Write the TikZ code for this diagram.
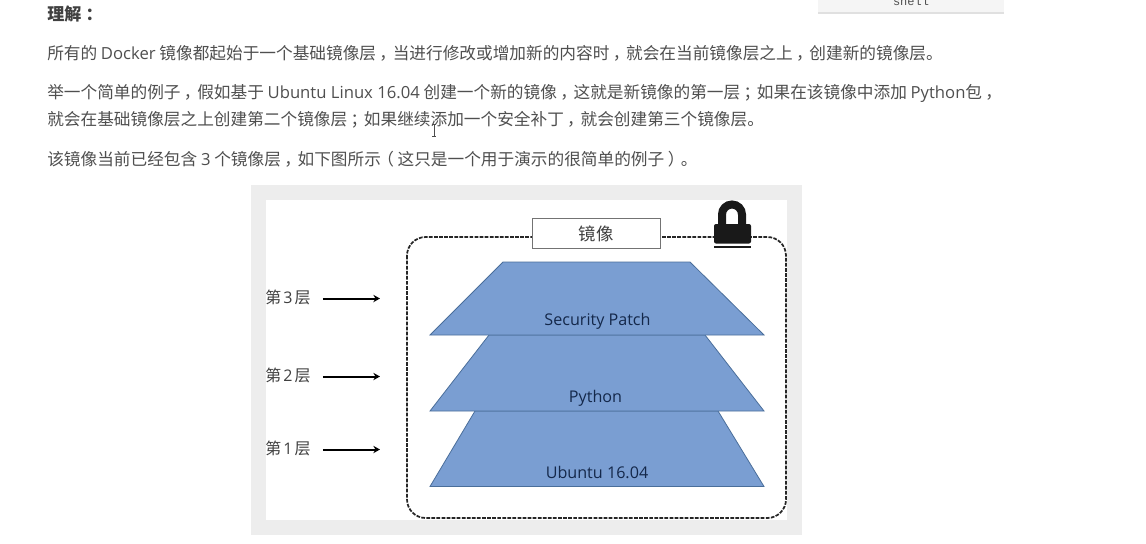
\documentclass[tikz,border=0pt]{standalone}
\usepackage{fontspec}
\setmainfont{Noto Sans CJK SC}
\newfontfamily\latf{Open Sans}
\newfontfamily\monof{Liberation Mono}
\newcommand{\lat}[1]{{\latf #1}}
\newcommand{\cm}{\kern.2em，\kern-.2em}
\newcommand{\sm}{\kern.2em；\kern-.2em}
\newcommand{\cln}{\kern.25em：\kern-.25em}
\newcommand{\lp}{\kern-.22em（\kern.22em}
\newcommand{\rp}{\kern.22em）\kern-.22em}
\usetikzlibrary{arrows.meta}
\definecolor{bodytext}{HTML}{4F4F4F}
\definecolor{framegray}{HTML}{EDEDED}
\definecolor{layerfill}{HTML}{7A9ED2}
\definecolor{layeredge}{HTML}{4A6E9A}
\definecolor{layertext}{HTML}{14284A}
\tikzset{
  bodyline/.style={anchor=base west,inner sep=0pt,text=bodytext,font=\fontsize{12.5pt}{14pt}\selectfont},
  layer/.style={fill=layerfill,draw=layeredge,line width=0.6pt},
  layerlabel/.style={anchor=base,inner sep=0pt,text=layertext,font=\latf\fontsize{12.1pt}{14pt}\selectfont},
  sidelabel/.style={anchor=base west,inner sep=0pt,text=black!75,font=\fontsize{12pt}{13pt}\selectfont},
  levelarrow/.style={line width=1.5pt,black,-{Stealth[length=5pt,width=5.5pt]}},
  dashedframe/.style={draw=black!85,line width=1.3pt,dash pattern=on 2.8pt off 1pt,rounded corners=14pt},
}
\begin{document}
\begin{tikzpicture}[x=0.75pt,y=-0.75pt]
\useasboundingbox (0,0) rectangle (1146,543);
\fill[white] (0,0) rectangle (1146,543);
% top-right card
\fill[black!12] (818,0) rectangle (1004,13.5);
\fill[black!4] (818,0) rectangle (1004,12);
\node[anchor=base,inner sep=0pt,text=bodytext,font=\monof\fontsize{9pt}{10pt}\selectfont] (card) at (911,5) {shell};
% text
\node[anchor=base west,inner sep=0pt,text=black!75,font=\bfseries\fontsize{12.8pt}{14pt}\selectfont] (title) at (47,20) {理解\cln};
\node[bodyline] (p1) at (47,59) {所有的 \lat{Docker} 镜像都起始于一个基础镜像层\cm 当进行修改或增加新的内容时\cm 就会在当前镜像层之上\cm 创建新的镜像层。};
\node[bodyline] (p2) at (47,98) {举一个简单的例子\cm 假如基于 \lat{Ubuntu Linux 16.04} 创建一个新的镜像\cm 这就是新镜像的第一层\sm 如果在该镜像中添加 \lat{Python}包\cm};
\node[bodyline] (p3) at (47,125) {就会在基础镜像层之上创建第二个镜像层\sm 如果继续添加一个安全补丁\cm 就会创建第三个镜像层。};
\node[bodyline] (p4) at (47,165) {该镜像当前已经包含 \lat{3} 个镜像层\cm 如下图所示\lp 这只是一个用于演示的很简单的例子\rp 。};
% text cursor
\draw[black!70,line width=0.6pt] (434,124) -- (434,136) (432,124) -- (436,124) (432,136) -- (436,136);
% figure frame
\fill[framegray] (251,185) rectangle (802,535);
\fill[white] (266,200) rectangle (787,520);
% dashed boundary
\draw[dashedframe] (407,237) rectangle (786,518);
% layers
\filldraw[layer] (475,411) -- (718,411) -- (764,486.5) -- (430,486.5) -- cycle;
\filldraw[layer] (489,335) -- (705,335) -- (764,411) -- (430,411) -- cycle;
\filldraw[layer] (503,262) -- (690,262) -- (764,335) -- (430,335) -- cycle;
\node[layerlabel] (sec) at (597.5,325) {Security Patch};
\node[layerlabel] (py) at (595.5,402) {Python};
\node[layerlabel] (ub) at (597,478) {Ubuntu 16.04};
% image box
\node[draw=black!55,fill=white,line width=0.7pt,inner sep=0pt,text=black!75,font=\fontsize{13pt}{14pt}\selectfont,minimum width=96pt,minimum height=22.5pt] (img) at (596,233.5) {镜像};
% lock
\draw[black!90,line width=6pt] (722,228) -- (722,214.5) arc[start angle=180,end angle=360,x radius=10,y radius=10] -- (742,228);
\fill[black!90,rounded corners=1.5pt] (714,224) rectangle (751,243.5);
\fill[black!90] (714,245.5) rectangle (751,248);
% level labels
\node[sidelabel] (l3) at (265,303.5) {第\kern1.6pt\lat{3}\kern1.6pt层};
\node[sidelabel] (l2) at (265,381) {第\kern1.6pt\lat{2}\kern1.6pt层};
\node[sidelabel] (l1) at (265,454) {第\kern1.6pt\lat{1}\kern1.6pt层};
\coordinate (a3) at (380,298.5);
\coordinate (a2) at (380,376.5);
\coordinate (a1) at (380,449.5);
\draw[levelarrow,shorten <=9pt] (l3.east |- a3) -- (a3);
\draw[levelarrow,shorten <=9pt] (l2.east |- a2) -- (a2);
\draw[levelarrow,shorten <=9pt] (l1.east |- a1) -- (a1);
\end{tikzpicture}
\end{document}
